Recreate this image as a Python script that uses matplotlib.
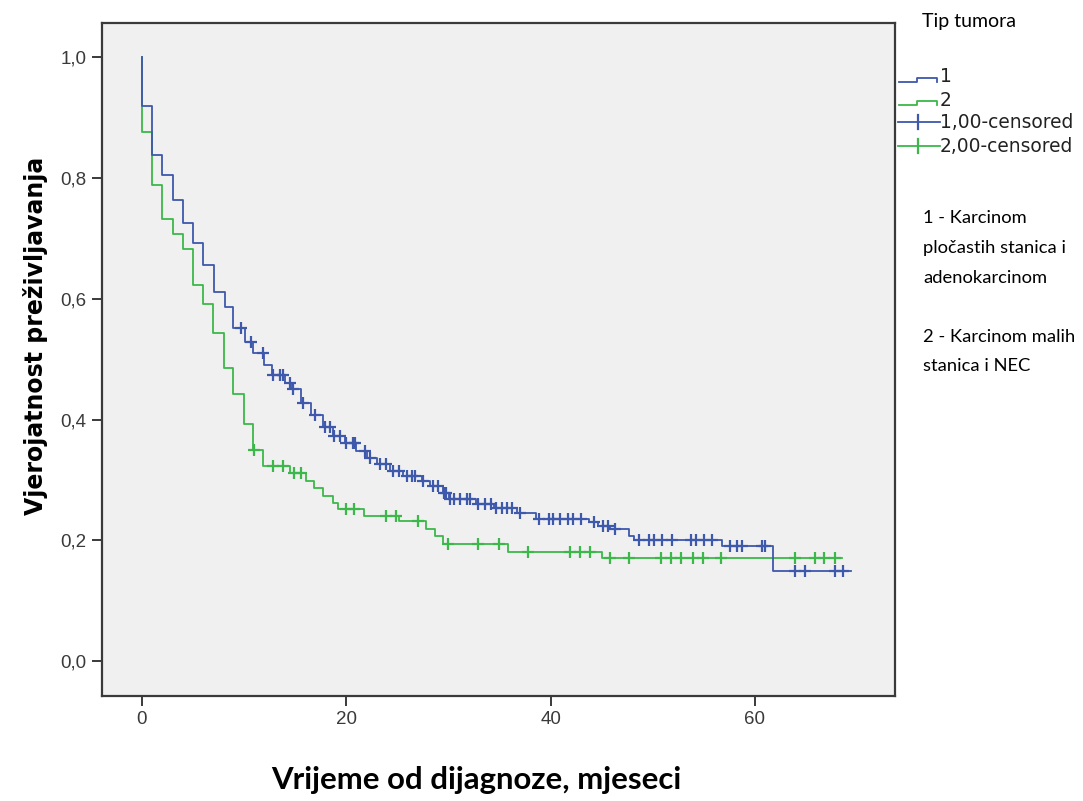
import numpy as np
import matplotlib
matplotlib.use("Agg")
import matplotlib.pyplot as plt
from matplotlib.lines import Line2D

plt.rcParams["font.family"] = ["Liberation Sans", "DejaVu Sans"]

# ---------------- data ----------------
# Group 1 (Karcinom pločastih stanica i adenokarcinom): event times and survival after event
g1_times = [0.0, 1.0, 2.0, 3.0, 4.0, 5.0, 6.0, 7.05, 8.1, 8.9, 10.1, 10.9, 12.0, 12.7,
            14.0, 14.6, 15.6, 16.6, 17.7, 18.7, 19.9, 21.0, 22.0, 23.0, 24.3, 25.6,
            27.4, 28.2, 29.5, 30.1, 32.7, 34.5, 36.7, 38.6, 43.8, 44.6, 45.8, 47.7,
            48.2, 56.8, 61.8]
g1_surv = [0.92, 0.838, 0.805, 0.764, 0.725, 0.692, 0.656, 0.612, 0.587, 0.552, 0.529,
           0.511, 0.491, 0.474, 0.461, 0.450, 0.428, 0.408, 0.387, 0.372, 0.361, 0.348,
           0.337, 0.326, 0.315, 0.306, 0.298, 0.290, 0.279, 0.268, 0.260, 0.254, 0.246,
           0.236, 0.230, 0.224, 0.218, 0.207, 0.201, 0.191, 0.149]
g1_end = 69.4
g1_censored = [9.75, 10.7, 11.9, 12.8, 13.5, 13.8, 14.5, 14.8, 15.8, 16.9, 17.9, 18.4,
               18.8, 19.4, 20.0, 20.7, 20.9, 21.8, 22.3, 23.3, 23.9, 24.6, 25.2, 25.9,
               26.4, 26.7, 27.5, 28.5, 29.0, 29.6, 29.8, 30.2, 30.5, 31.1, 31.8, 32.1,
               32.9, 33.6, 34.2, 34.7, 35.2, 35.7, 36.2, 37.0, 38.9, 39.8, 40.2, 40.9,
               41.7, 42.2, 43.0, 44.2, 45.1, 45.6, 46.3, 48.6, 49.6, 50.1, 50.9, 51.9,
               53.7, 54.2, 55.0, 55.8, 57.6, 58.2, 58.7, 60.7, 61.0, 63.9, 64.9, 67.8,
               68.6]

# Group 2 (Karcinom malih stanica i NEC)
g2_times = [0.0, 1.0, 2.0, 3.0, 4.0, 5.0, 6.0, 7.0, 8.0, 8.9, 10.0, 10.9, 11.9, 14.5,
            16.1, 16.8, 17.7, 18.7, 19.2, 21.7, 25.2, 27.8, 28.7, 29.5, 35.8, 45.0]
g2_surv = [0.877, 0.788, 0.732, 0.707, 0.682, 0.623, 0.592, 0.544, 0.485, 0.443, 0.392,
           0.349, 0.323, 0.312, 0.298, 0.286, 0.273, 0.262, 0.251, 0.241, 0.232, 0.218,
           0.207, 0.193, 0.180, 0.170]
g2_end = 68.5
g2_censored = [10.95, 12.8, 13.8, 14.9, 15.6, 20.0, 20.8, 23.9, 24.9, 27.0, 30.0, 32.9,
               34.9, 37.8, 41.9, 42.9, 43.9, 45.8, 47.7, 50.8, 51.8, 52.8, 53.9, 54.9,
               56.7, 63.9, 65.9, 66.8, 67.8]

x_ticks = [0, 20, 40, 60]
x_tick_labels = ["0", "20", "40", "60"]
y_ticks = [0.0, 0.2, 0.4, 0.6, 0.8, 1.0]
y_tick_labels = ["0,0", "0,2", "0,4", "0,6", "0,8", "1,0"]

legend_title = "Tip tumora"
legend_labels = ["1", "2", "1,00-censored", "2,00-censored"]
note1_lines = ["1 - Karcinom", "pločastih stanica i", "adenokarcinom"]
note2_lines = ["2 - Karcinom malih", "stanica i NEC"]
xlabel = "Vrijeme od dijagnoze, mjeseci"
ylabel = "Vjerojatnost preživljavanja"

c1 = "#3e58ac"
c2 = "#3cb84a"

# ---------------- figure ----------------
W, H = 1083.0, 801.0
fig = plt.figure(figsize=(10.83, 8.01), dpi=100)
ax = fig.add_axes([102 / W, 1 - 696 / H, (895 - 102) / W, (696 - 23) / H])
ax.set_facecolor("#f0f0f0")


def km(ax, times, surv, end, cens, color, z):
    xs = [0.0] + list(times) + [end]
    ys = [1.0] + list(surv) + [surv[-1]]
    ax.step(xs, ys, where="post", color=color, lw=1.3, zorder=z)
    t = np.asarray(times)
    s = np.asarray(surv)
    c = np.asarray(cens)
    idx = np.searchsorted(t, c, side="right") - 1
    cy = np.where(idx >= 0, s[np.clip(idx, 0, None)], 1.0)
    ax.plot(c, cy, linestyle="none", marker="+", markersize=9, mew=1.6,
            color=color, zorder=z + 1)


km(ax, g2_times, g2_surv, g2_end, g2_censored, c2, 2)
km(ax, g1_times, g1_surv, g1_end, g1_censored, c1, 4)

ax.set_xlim(-3.9, 73.7)
ax.set_ylim(-0.058, 1.057)
ax.set_xticks(x_ticks)
ax.set_xticklabels(x_tick_labels)
ax.set_yticks(y_ticks)
ax.set_yticklabels(y_tick_labels)
for sp in ax.spines.values():
    sp.set_color("#3a3a3a")
    sp.set_linewidth(1.6)
ax.tick_params(axis="both", direction="out", length=7.5, width=1.4, color="#3a3a3a",
               labelcolor="#3a3a3a", labelsize=13.5, pad=3.5)

fig.text(36 / W, 1 - 336 / H, ylabel, rotation=90, ha="center", va="center",
         fontsize=17, fontweight="bold", family="DejaVu Sans")
fig.text(476 / W, 1 - 789 / H, xlabel, ha="center", va="baseline",
         fontsize=22.4, fontweight="bold", family="Lato")

# legend (manual, in pixel coordinates of the figure)
fig.text(922 / W, 1 - 22 / H, legend_title, ha="left", va="center", fontsize=14,
         family="Lato")


def fline(xp, yp, color, lw=1.3):
    fig.add_artist(Line2D([x / W for x in xp], [1 - y / H for y in yp],
                          color=color, lw=lw, transform=fig.transFigure))


ys_leg = [77, 100, 123, 147]
cols = [c1, c2, c1, c2]
for i, (yl, col, lab) in enumerate(zip(ys_leg, cols, legend_labels)):
    if i < 2:
        fline([899, 917, 917, 937, 937], [yl + 5, yl + 5, yl + 1, yl + 1, yl + 5], col)
    else:
        fline([898, 940], [yl - 1, yl - 1], col)
        fline([918, 918], [yl - 8, yl + 6], col, lw=1.6)
    fig.text(940 / W, 1 - yl / H, lab, ha="left", va="center", fontsize=13.4,
             family="DejaVu Sans", color="#222222")

for txt, yl in zip(note1_lines, [218, 248, 278]):
    fig.text(923 / W, 1 - yl / H, txt, ha="left", va="center", fontsize=13.2,
             family="Lato")
for txt, yl in zip(note2_lines, [337, 366]):
    fig.text(923 / W, 1 - yl / H, txt, ha="left", va="center", fontsize=13.2,
             family="Lato")

fig.savefig("out.png", dpi=100, facecolor="white")
